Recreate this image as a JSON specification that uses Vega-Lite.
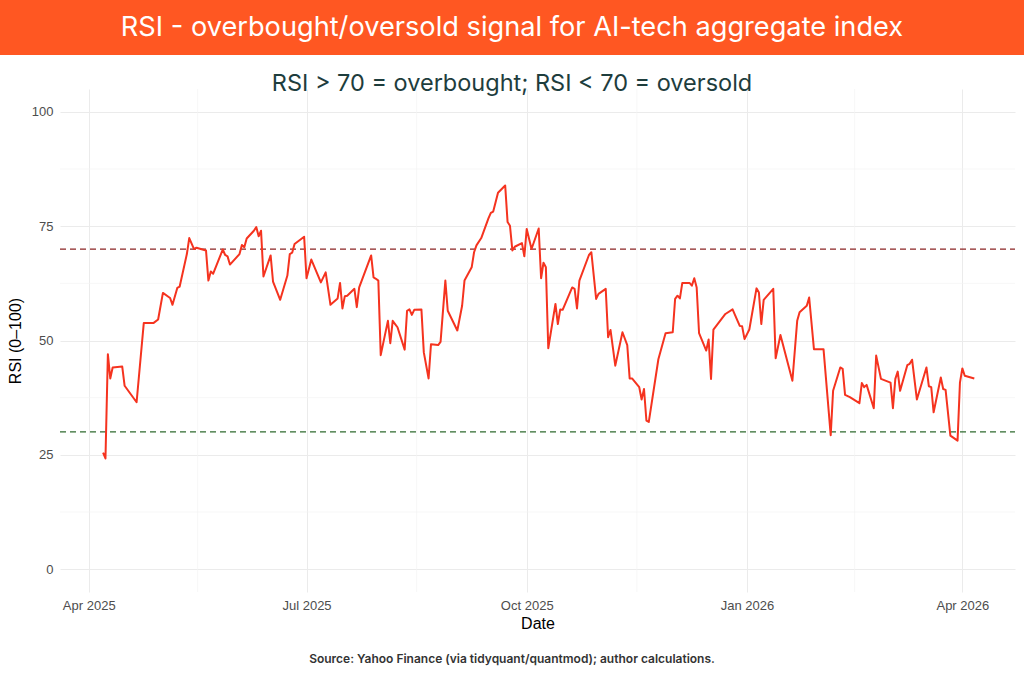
{
  "$schema": "https://vega.github.io/schema/vega-lite/v6.json",
  "background": "white",
  "padding": 0,
  "spacing": 17,
  "config": {
    "view": {"stroke": null},
    "axis": {
      "ticks": false,
      "domain": false,
      "gridColor": "#EBEBEB",
      "gridWidth": 1,
      "labelFont": "Liberation Sans",
      "labelFontSize": 13,
      "labelColor": "#4D4D4D",
      "titleFont": "Liberation Sans",
      "titleFontSize": 16,
      "titleFontWeight": "normal",
      "titleColor": "#000000",
      "labelPadding": 7
    }
  },
  "vconcat": [
    {
      "width": 1024,
      "height": 55,
      "view": {"fill": "#FF5722", "stroke": null},
      "data": {"values": [{"t": "RSI - overbought/oversold signal for AI-tech aggregate index"}]},
      "mark": {"type": "text", "color": "#FFFFFF", "font": "Inter", "fontSize": 27.2, "fontWeight": "normal"},
      "encoding": {"text": {"field": "t", "type": "nominal"}}
    },
    {
      "width": 1024,
      "height": 503,
      "title": {
        "text": "RSI > 70 = overbought; RSI < 70 = oversold",
        "font": "Inter",
        "fontSize": 23.5,
        "fontWeight": "normal",
        "color": "#1E3D3D",
        "anchor": "middle",
        "frame": "group",
        "baseline": "alphabetic",
        "offset": -26
      },
      "layer": [
        {
          "data": {"values": [
            {"date": "2025-05-16T12:00:00Z"},
            {"date": "2025-08-16T00:00:00Z"},
            {"date": "2025-11-16T00:00:00Z"},
            {"date": "2026-02-15T00:00:00Z"}
          ]},
          "mark": {"type": "rule", "color": "#F3F3F3", "strokeWidth": 0.7},
          "encoding": {
            "x": {"field": "date", "type": "temporal",
              "scale": {"type": "utc", "domain": [{"year": 2025, "month": 3, "date": 20, "utc": true}, {"year": 2026, "month": 4, "date": 23, "utc": true}], "range": [60, 1015]},
              "axis": {"values": [{"year": 2025, "month": 4, "date": 1, "utc": true}, {"year": 2025, "month": 7, "date": 1, "utc": true}, {"year": 2025, "month": 10, "date": 1, "utc": true}, {"year": 2026, "month": 1, "date": 1, "utc": true}, {"year": 2026, "month": 4, "date": 1, "utc": true}], "labelExpr": "utcFormat(datum.value, '%b %Y')", "title": "Date", "titlePadding": 3}}
          }
        },
        {
          "data": {"values": [{"rsi": 12.5}, {"rsi": 37.5}, {"rsi": 62.5}, {"rsi": 87.5}]},
          "mark": {"type": "rule", "color": "#F3F3F3", "strokeWidth": 0.7},
          "encoding": {
            "x": {"datum": {"year": 2025, "month": 3, "date": 20, "utc": true}, "type": "temporal",
              "scale": {"type": "utc", "domain": [{"year": 2025, "month": 3, "date": 20, "utc": true}, {"year": 2026, "month": 4, "date": 23, "utc": true}], "range": [60, 1015]},
              "axis": {"values": [{"year": 2025, "month": 4, "date": 1, "utc": true}, {"year": 2025, "month": 7, "date": 1, "utc": true}, {"year": 2025, "month": 10, "date": 1, "utc": true}, {"year": 2026, "month": 1, "date": 1, "utc": true}, {"year": 2026, "month": 4, "date": 1, "utc": true}], "labelExpr": "utcFormat(datum.value, '%b %Y')", "title": "Date", "titlePadding": 3}},
            "x2": {"datum": {"year": 2026, "month": 4, "date": 23, "utc": true}},
            "y": {"field": "rsi", "type": "quantitative",
              "scale": {"domain": [-5, 105], "nice": false, "zero": false},
              "axis": {"values": [0, 25, 50, 75, 100], "title": "RSI (0–100)", "offset": -60, "titlePadding": 8}}
          }
        },
        {
          "data": {"values": [{"rsi": 70, "zone": "overbought"}, {"rsi": 30, "zone": "oversold"}]},
          "mark": {"type": "rule", "strokeWidth": 1.2, "strokeDash": [6, 4]},
          "encoding": {
            "x": {"datum": {"year": 2025, "month": 3, "date": 20, "utc": true}, "type": "temporal",
              "scale": {"type": "utc", "domain": [{"year": 2025, "month": 3, "date": 20, "utc": true}, {"year": 2026, "month": 4, "date": 23, "utc": true}], "range": [60, 1015]},
              "axis": {"values": [{"year": 2025, "month": 4, "date": 1, "utc": true}, {"year": 2025, "month": 7, "date": 1, "utc": true}, {"year": 2025, "month": 10, "date": 1, "utc": true}, {"year": 2026, "month": 1, "date": 1, "utc": true}, {"year": 2026, "month": 4, "date": 1, "utc": true}], "labelExpr": "utcFormat(datum.value, '%b %Y')", "title": "Date", "titlePadding": 3}},
            "x2": {"datum": {"year": 2026, "month": 4, "date": 23, "utc": true}},
            "y": {"field": "rsi", "type": "quantitative",
              "scale": {"domain": [-5, 105], "nice": false, "zero": false},
              "axis": {"values": [0, 25, 50, 75, 100], "title": "RSI (0–100)", "offset": -60, "titlePadding": 8}},
            "color": {"field": "zone", "type": "nominal", "scale": {"domain": ["overbought", "oversold"], "range": ["#8B2525", "#2F6B2F"]}, "legend": null}
          }
        },
        {
          "data": {"values": [
            {"date": "2025-04-07", "rsi": 25.5},
            {"date": "2025-04-08", "rsi": 24.2},
            {"date": "2025-04-09", "rsi": 47.0},
            {"date": "2025-04-10", "rsi": 41.7},
            {"date": "2025-04-11", "rsi": 44.1},
            {"date": "2025-04-15", "rsi": 44.3},
            {"date": "2025-04-16", "rsi": 40.1},
            {"date": "2025-04-21", "rsi": 36.5},
            {"date": "2025-04-24", "rsi": 53.8},
            {"date": "2025-04-28", "rsi": 53.8},
            {"date": "2025-04-30", "rsi": 54.6},
            {"date": "2025-05-02", "rsi": 60.4},
            {"date": "2025-05-05", "rsi": 59.3},
            {"date": "2025-05-06", "rsi": 57.8},
            {"date": "2025-05-08", "rsi": 61.5},
            {"date": "2025-05-09", "rsi": 61.8},
            {"date": "2025-05-12", "rsi": 68.9},
            {"date": "2025-05-13", "rsi": 72.4},
            {"date": "2025-05-15", "rsi": 70.0},
            {"date": "2025-05-16", "rsi": 70.3},
            {"date": "2025-05-20", "rsi": 69.7},
            {"date": "2025-05-21", "rsi": 63.1},
            {"date": "2025-05-22", "rsi": 65.1},
            {"date": "2025-05-23", "rsi": 64.6},
            {"date": "2025-05-27", "rsi": 69.9},
            {"date": "2025-05-28", "rsi": 68.7},
            {"date": "2025-05-29", "rsi": 68.4},
            {"date": "2025-05-30", "rsi": 66.6},
            {"date": "2025-06-03", "rsi": 68.9},
            {"date": "2025-06-04", "rsi": 70.9},
            {"date": "2025-06-05", "rsi": 70.4},
            {"date": "2025-06-06", "rsi": 72.3},
            {"date": "2025-06-09", "rsi": 74.0},
            {"date": "2025-06-10", "rsi": 74.8},
            {"date": "2025-06-11", "rsi": 72.8},
            {"date": "2025-06-12", "rsi": 74.0},
            {"date": "2025-06-13", "rsi": 64.0},
            {"date": "2025-06-16", "rsi": 68.6},
            {"date": "2025-06-17", "rsi": 62.9},
            {"date": "2025-06-20", "rsi": 58.9},
            {"date": "2025-06-23", "rsi": 64.2},
            {"date": "2025-06-24", "rsi": 68.9},
            {"date": "2025-06-25", "rsi": 69.2},
            {"date": "2025-06-26", "rsi": 71.1},
            {"date": "2025-06-30", "rsi": 72.7},
            {"date": "2025-07-01", "rsi": 63.6},
            {"date": "2025-07-03", "rsi": 67.7},
            {"date": "2025-07-07", "rsi": 62.7},
            {"date": "2025-07-09", "rsi": 64.9},
            {"date": "2025-07-11", "rsi": 57.8},
            {"date": "2025-07-14", "rsi": 59.2},
            {"date": "2025-07-15", "rsi": 62.6},
            {"date": "2025-07-16", "rsi": 57.0},
            {"date": "2025-07-17", "rsi": 59.7},
            {"date": "2025-07-18", "rsi": 59.8},
            {"date": "2025-07-21", "rsi": 61.3},
            {"date": "2025-07-22", "rsi": 57.3},
            {"date": "2025-07-23", "rsi": 61.6},
            {"date": "2025-07-28", "rsi": 68.6},
            {"date": "2025-07-29", "rsi": 63.8},
            {"date": "2025-07-30", "rsi": 63.5},
            {"date": "2025-07-31", "rsi": 63.1},
            {"date": "2025-08-01", "rsi": 46.8},
            {"date": "2025-08-04", "rsi": 54.3},
            {"date": "2025-08-05", "rsi": 49.4},
            {"date": "2025-08-06", "rsi": 54.3},
            {"date": "2025-08-07", "rsi": 53.6},
            {"date": "2025-08-08", "rsi": 52.9},
            {"date": "2025-08-11", "rsi": 48.0},
            {"date": "2025-08-12", "rsi": 56.5},
            {"date": "2025-08-13", "rsi": 56.8},
            {"date": "2025-08-14", "rsi": 55.6},
            {"date": "2025-08-15", "rsi": 56.7},
            {"date": "2025-08-18", "rsi": 56.8},
            {"date": "2025-08-19", "rsi": 47.4},
            {"date": "2025-08-21", "rsi": 41.7},
            {"date": "2025-08-22", "rsi": 49.2},
            {"date": "2025-08-25", "rsi": 49.0},
            {"date": "2025-08-26", "rsi": 49.7},
            {"date": "2025-08-28", "rsi": 63.1},
            {"date": "2025-08-29", "rsi": 56.5},
            {"date": "2025-09-02", "rsi": 52.2},
            {"date": "2025-09-04", "rsi": 57.6},
            {"date": "2025-09-05", "rsi": 63.1},
            {"date": "2025-09-08", "rsi": 66.0},
            {"date": "2025-09-09", "rsi": 69.3},
            {"date": "2025-09-10", "rsi": 70.8},
            {"date": "2025-09-12", "rsi": 72.4},
            {"date": "2025-09-15", "rsi": 76.7},
            {"date": "2025-09-16", "rsi": 77.9},
            {"date": "2025-09-17", "rsi": 78.2},
            {"date": "2025-09-19", "rsi": 82.3},
            {"date": "2025-09-22", "rsi": 83.9},
            {"date": "2025-09-23", "rsi": 75.9},
            {"date": "2025-09-24", "rsi": 75.1},
            {"date": "2025-09-25", "rsi": 69.7},
            {"date": "2025-09-26", "rsi": 70.5},
            {"date": "2025-09-29", "rsi": 71.3},
            {"date": "2025-09-30", "rsi": 68.4},
            {"date": "2025-10-01", "rsi": 74.4},
            {"date": "2025-10-03", "rsi": 70.0},
            {"date": "2025-10-06", "rsi": 74.5},
            {"date": "2025-10-07", "rsi": 63.6},
            {"date": "2025-10-08", "rsi": 67.0},
            {"date": "2025-10-09", "rsi": 66.0},
            {"date": "2025-10-10", "rsi": 48.3},
            {"date": "2025-10-13", "rsi": 58.0},
            {"date": "2025-10-14", "rsi": 53.6},
            {"date": "2025-10-15", "rsi": 56.8},
            {"date": "2025-10-16", "rsi": 56.7},
            {"date": "2025-10-20", "rsi": 61.6},
            {"date": "2025-10-21", "rsi": 61.3},
            {"date": "2025-10-22", "rsi": 57.0},
            {"date": "2025-10-23", "rsi": 63.1},
            {"date": "2025-10-27", "rsi": 68.7},
            {"date": "2025-10-28", "rsi": 69.3},
            {"date": "2025-10-30", "rsi": 59.1},
            {"date": "2025-10-31", "rsi": 60.2},
            {"date": "2025-11-03", "rsi": 61.3},
            {"date": "2025-11-04", "rsi": 50.7},
            {"date": "2025-11-05", "rsi": 52.3},
            {"date": "2025-11-07", "rsi": 44.5},
            {"date": "2025-11-10", "rsi": 51.8},
            {"date": "2025-11-12", "rsi": 49.0},
            {"date": "2025-11-13", "rsi": 41.7},
            {"date": "2025-11-14", "rsi": 41.7},
            {"date": "2025-11-17", "rsi": 39.8},
            {"date": "2025-11-18", "rsi": 37.1},
            {"date": "2025-11-19", "rsi": 39.4},
            {"date": "2025-11-20", "rsi": 32.5},
            {"date": "2025-11-21", "rsi": 32.2},
            {"date": "2025-11-25", "rsi": 45.9},
            {"date": "2025-11-28", "rsi": 51.6},
            {"date": "2025-12-01", "rsi": 51.8},
            {"date": "2025-12-02", "rsi": 59.1},
            {"date": "2025-12-03", "rsi": 59.8},
            {"date": "2025-12-04", "rsi": 59.2},
            {"date": "2025-12-05", "rsi": 62.6},
            {"date": "2025-12-08", "rsi": 62.6},
            {"date": "2025-12-09", "rsi": 62.0},
            {"date": "2025-12-10", "rsi": 63.6},
            {"date": "2025-12-11", "rsi": 61.6},
            {"date": "2025-12-12", "rsi": 51.6},
            {"date": "2025-12-15", "rsi": 47.8},
            {"date": "2025-12-16", "rsi": 50.2},
            {"date": "2025-12-17", "rsi": 41.6},
            {"date": "2025-12-18", "rsi": 52.4},
            {"date": "2025-12-23", "rsi": 55.8},
            {"date": "2025-12-26", "rsi": 56.8},
            {"date": "2025-12-29", "rsi": 53.2},
            {"date": "2025-12-30", "rsi": 53.1},
            {"date": "2025-12-31", "rsi": 50.3},
            {"date": "2026-01-02", "rsi": 52.4},
            {"date": "2026-01-05", "rsi": 61.4},
            {"date": "2026-01-06", "rsi": 60.5},
            {"date": "2026-01-07", "rsi": 53.6},
            {"date": "2026-01-08", "rsi": 58.9},
            {"date": "2026-01-12", "rsi": 61.3},
            {"date": "2026-01-13", "rsi": 46.1},
            {"date": "2026-01-15", "rsi": 51.2},
            {"date": "2026-01-20", "rsi": 41.2},
            {"date": "2026-01-22", "rsi": 54.3},
            {"date": "2026-01-23", "rsi": 56.2},
            {"date": "2026-01-26", "rsi": 57.6},
            {"date": "2026-01-27", "rsi": 59.4},
            {"date": "2026-01-29", "rsi": 48.1},
            {"date": "2026-02-02", "rsi": 48.1},
            {"date": "2026-02-05", "rsi": 29.3},
            {"date": "2026-02-06", "rsi": 39.0},
            {"date": "2026-02-09", "rsi": 44.1},
            {"date": "2026-02-10", "rsi": 43.8},
            {"date": "2026-02-11", "rsi": 38.1},
            {"date": "2026-02-13", "rsi": 37.6},
            {"date": "2026-02-17", "rsi": 36.3},
            {"date": "2026-02-18", "rsi": 40.7},
            {"date": "2026-02-19", "rsi": 39.8},
            {"date": "2026-02-20", "rsi": 40.3},
            {"date": "2026-02-23", "rsi": 35.2},
            {"date": "2026-02-24", "rsi": 46.7},
            {"date": "2026-02-26", "rsi": 41.6},
            {"date": "2026-03-02", "rsi": 40.8},
            {"date": "2026-03-03", "rsi": 35.2},
            {"date": "2026-03-04", "rsi": 41.6},
            {"date": "2026-03-05", "rsi": 43.2},
            {"date": "2026-03-06", "rsi": 39.0},
            {"date": "2026-03-09", "rsi": 44.6},
            {"date": "2026-03-10", "rsi": 44.9},
            {"date": "2026-03-11", "rsi": 45.8},
            {"date": "2026-03-13", "rsi": 37.1},
            {"date": "2026-03-17", "rsi": 44.1},
            {"date": "2026-03-18", "rsi": 40.0},
            {"date": "2026-03-19", "rsi": 39.8},
            {"date": "2026-03-20", "rsi": 34.3},
            {"date": "2026-03-23", "rsi": 41.9},
            {"date": "2026-03-24", "rsi": 39.4},
            {"date": "2026-03-25", "rsi": 39.2},
            {"date": "2026-03-27", "rsi": 29.2},
            {"date": "2026-03-30", "rsi": 28.1},
            {"date": "2026-03-31", "rsi": 40.8},
            {"date": "2026-04-01", "rsi": 43.9},
            {"date": "2026-04-02", "rsi": 42.3},
            {"date": "2026-04-06", "rsi": 41.7}
          ]},
          "mark": {"type": "line", "color": "#F5331F", "strokeWidth": 2, "strokeJoin": "round"},
          "encoding": {
            "x": {"field": "date", "type": "temporal",
              "scale": {"type": "utc", "domain": [{"year": 2025, "month": 3, "date": 20, "utc": true}, {"year": 2026, "month": 4, "date": 23, "utc": true}], "range": [60, 1015]},
              "axis": {"values": [{"year": 2025, "month": 4, "date": 1, "utc": true}, {"year": 2025, "month": 7, "date": 1, "utc": true}, {"year": 2025, "month": 10, "date": 1, "utc": true}, {"year": 2026, "month": 1, "date": 1, "utc": true}, {"year": 2026, "month": 4, "date": 1, "utc": true}], "labelExpr": "utcFormat(datum.value, '%b %Y')", "title": "Date", "titlePadding": 3}},
            "y": {"field": "rsi", "type": "quantitative",
              "scale": {"domain": [-5, 105], "nice": false, "zero": false},
              "axis": {"values": [0, 25, 50, 75, 100], "title": "RSI (0–100)", "offset": -60, "titlePadding": 8}}
          }
        }
      ]
    },
    {
      "width": 1024,
      "height": 22,
      "data": {"values": [{"t": "Source: Yahoo Finance (via tidyquant/quantmod); author calculations."}]},
      "mark": {"type": "text", "color": "#333333", "font": "Inter", "fontSize": 12, "fontWeight": 600},
      "encoding": {"text": {"field": "t", "type": "nominal"}}
    }
  ]
}
